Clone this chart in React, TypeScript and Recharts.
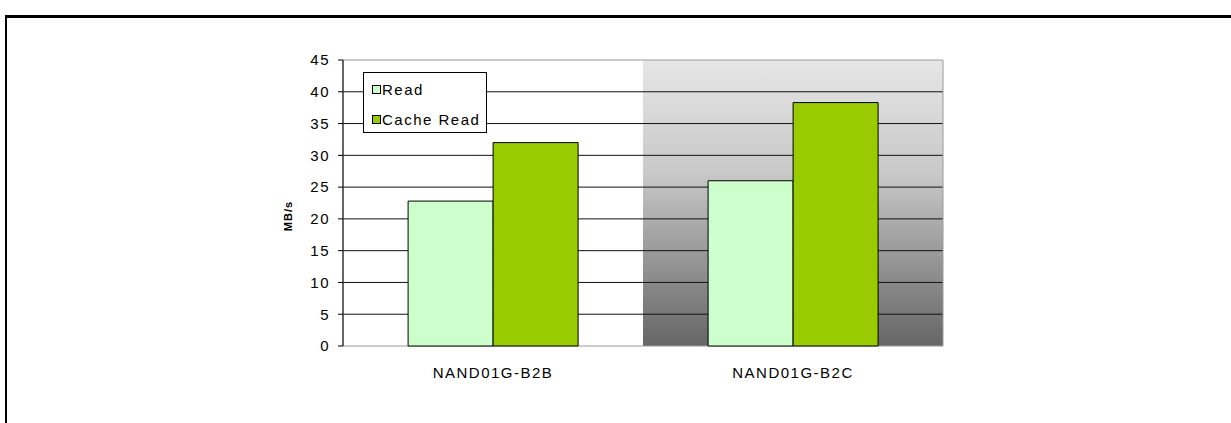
import React from "react";
import {
  BarChart, Bar, XAxis, YAxis, CartesianGrid, ReferenceArea, Legend,
} from "recharts";

const categories = ["NAND01G-B2B", "NAND01G-B2C"];
const seriesNames = ["Read", "Cache Read"];
const readValues = [22.8, 26.0];
const cacheReadValues = [32.0, 38.3];
const yTicks = [0, 5, 10, 15, 20, 25, 30, 35, 40, 45];

const FONT = "'Liberation Sans', Arial, sans-serif";

const data = categories.map((name, i) => ({
  name,
  read: readValues[i],
  cacheRead: cacheReadValues[i],
}));

// tick positions at the category boundaries (0..n)
const edgeTicks = [...categories.map((_, i) => i), categories.length];

function LegendBox({ payload }: { payload?: Array<{ value: string; color: string }> }) {
  if (!payload) return null;
  const items = [...payload].sort((a, b) => seriesNames.indexOf(a.value) - seriesNames.indexOf(b.value));
  return (
    <div style={{
      width: 124, height: 61, boxSizing: "border-box", border: "1px solid #000",
      background: "#fff", paddingTop: 1, fontFamily: FONT,
    }}>
      {items.map((p) => (
        <div key={p.value} style={{ height: 30, display: "flex", alignItems: "center", paddingLeft: 8 }}>
          <span style={{
            display: "inline-block", width: 9, height: 9, boxSizing: "border-box",
            border: "1px solid #000", background: p.color,
          }} />
          <span style={{ marginLeft: 1, fontSize: 15, letterSpacing: 1.5, color: "#000" }}>{p.value}</span>
        </div>
      ))}
    </div>
  );
}

function YLabel({ viewBox }: any) {
  const cx = viewBox.x + 9;
  const cy = viewBox.y + viewBox.height / 2 + 13;
  return (
    <text x={cx} y={cy} transform={`rotate(-90 ${cx} ${cy})`} textAnchor="middle"
      fontFamily={FONT} fontSize={11} fontWeight="bold" letterSpacing={1} fill="#000">
      MB/s
    </text>
  );
}

// left edge of each category band, from the axis range
function bandEdges({ xAxis, offset }: any) {
  const s = xAxis?.scale;
  let r0 = offset?.left;
  let r1 = offset ? offset.left + offset.width : undefined;
  if (s && typeof s.range === "function") {
    const r = s.range();
    r0 = Math.min(r[0], r[1]);
    r1 = Math.max(r[0], r[1]);
  }
  if (r0 == null || r1 == null) return [];
  const n = categories.length;
  return categories.map((_, i) => r0 + (i * (r1 - r0)) / n);
}

export default function App() {
  return (
    <div style={{ position: "absolute", left: 0, top: 0, width: 1231, height: 423, fontFamily: FONT, overflow: "hidden" }}>
      <div style={{
        position: "absolute", left: 5, top: 15, width: 1300, height: 500,
        borderTop: "3px solid #000", borderLeft: "2px solid #000",
      }} />
      <div style={{ position: "absolute", left: 0, top: 0 }}>
        <BarChart width={1231} height={423} data={data}
          margin={{ top: 60, right: 288, left: 283, bottom: 47 }}
          barCategoryGap="21.7%" barGap={0}>
          <defs>
            <linearGradient id="plotGrad" x1="0" y1="0" x2="0" y2="1">
              <stop offset="0%" stopColor="#e6e6e6" />
              <stop offset="40%" stopColor="#c8c8c8" />
              <stop offset="55%" stopColor="#aeaeae" />
              <stop offset="100%" stopColor="#666666" />
            </linearGradient>
          </defs>
          <CartesianGrid xAxisId="cat" stroke="#111" strokeWidth={1}
            horizontalValues={yTicks.slice(1, -1)}
            vertical={(p: any) => <g key={p.key} />}
            verticalCoordinatesGenerator={bandEdges}
            verticalFill={["#ffffff", "url(#plotGrad)"]} />
          <XAxis xAxisId="edge" type="number" domain={[0, categories.length]} ticks={edgeTicks}
            tickFormatter={() => ""} height={0} stroke="#000" tickSize={5} allowDataOverflow />
          <XAxis xAxisId="cat" dataKey="name" axisLine={false} tickLine={false} tickSize={0}
            tickMargin={21} height={30} interval={0}
            tick={{ fill: "#000", fontSize: 15, letterSpacing: 1.5, fontFamily: FONT }} />
          <YAxis domain={[0, 45]} ticks={yTicks} width={60} stroke="#000" tickSize={5} tickMargin={8}
            interval={0} tick={{ fill: "#000", fontSize: 15, letterSpacing: 1.5, fontFamily: FONT }}
            label={<YLabel />} />
          <ReferenceArea xAxisId="cat" x1={categories[0]} x2={categories[categories.length - 1]}
            y1={0} y2={45} fill="none" stroke="#999" strokeWidth={1} />
          <Legend layout="horizontal" verticalAlign="middle" align="center"
            wrapperStyle={{ left: 363, top: 72, width: "auto" }} content={<LegendBox />} />
          <Bar xAxisId="cat" dataKey="read" name={seriesNames[0]} fill="#ccffcc" stroke="#000" strokeWidth={1} isAnimationActive={false} />
          <Bar xAxisId="cat" dataKey="cacheRead" name={seriesNames[1]} fill="#99cc00" stroke="#000" strokeWidth={1} isAnimationActive={false} />
        </BarChart>
      </div>
    </div>
  );
}
